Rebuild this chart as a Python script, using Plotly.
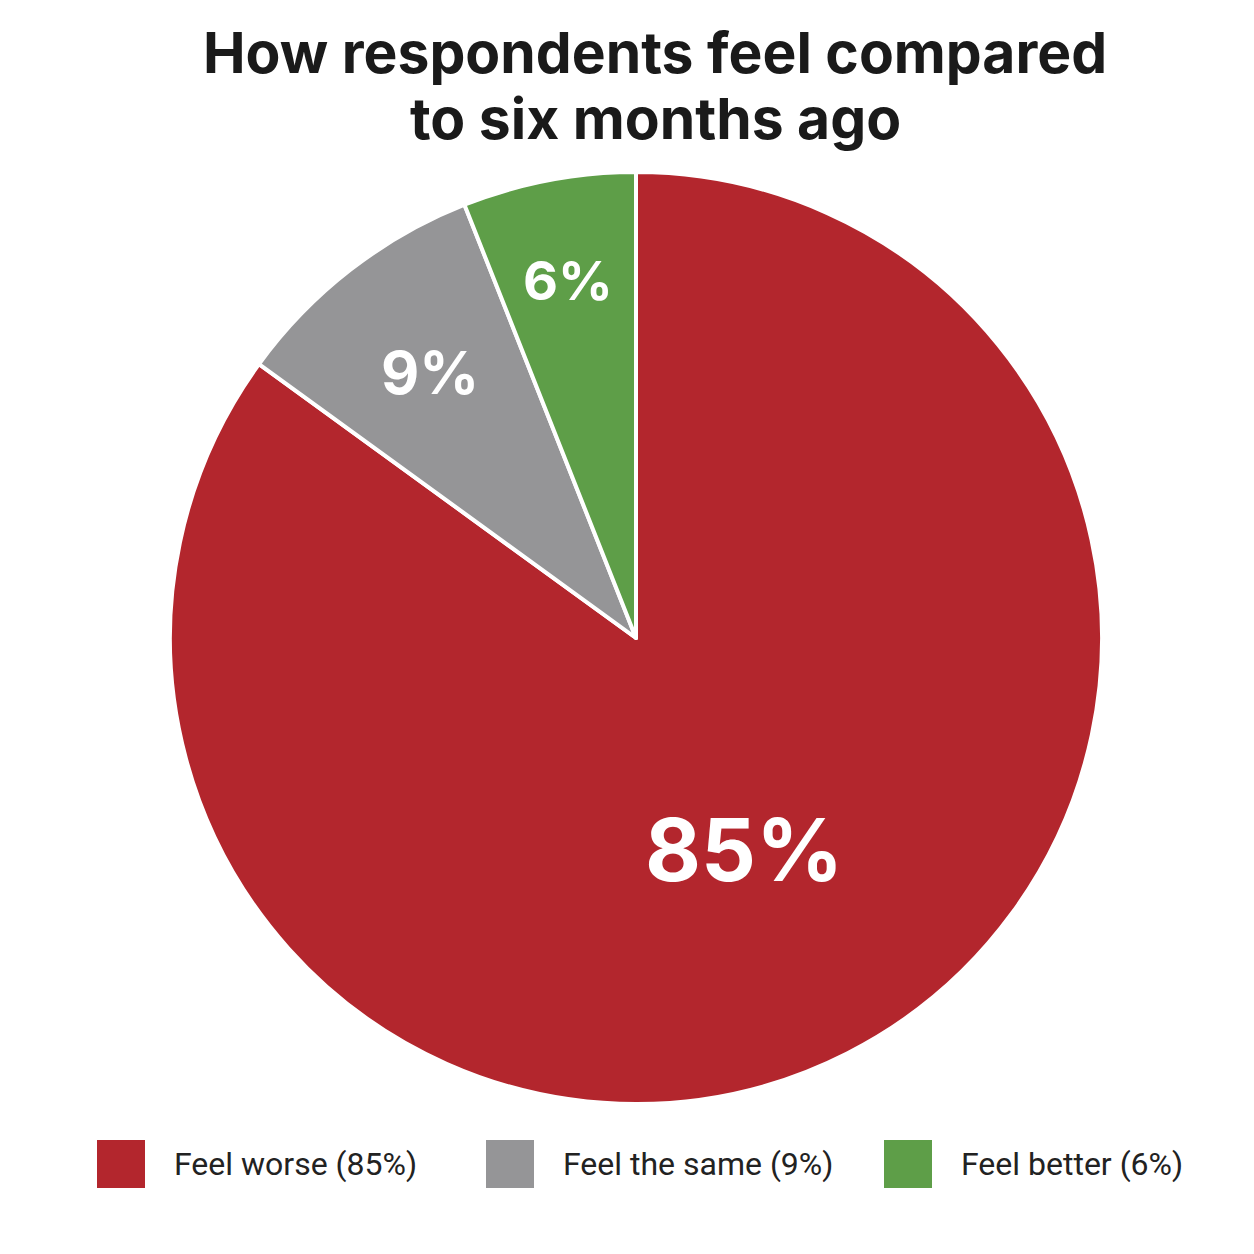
import math
import plotly.graph_objects as go

labels = ["Feel worse", "Feel the same", "Feel better"]
values = [85, 9, 6]
colors = ["#B3262D", "#959597", "#5E9E48"]
label_sizes = [86, 59, 54]
label_radial = [0.51, 0.72, 0.78]   # radial position of slice labels (fraction of radius)
title_lines = ["How respondents feel compared", "to six months ago"]

W = H = 1254
OFF = 8  # page body margin of the browser
cx, cy, r = 636 - OFF, 638 - OFF, 466

fig = go.Figure(go.Pie(
    labels=labels,
    values=values,
    marker=dict(colors=colors, line=dict(color="white", width=4)),
    sort=False,
    direction="clockwise",
    rotation=0,
    textinfo="none",
    domain=dict(x=[(cx - r) / W, (cx + r) / W], y=[1 - (cy + r) / H, 1 - (cy - r) / H]),
    showlegend=False,
    hoverinfo="label+percent",
))

annotations = []
# slice labels placed on each slice's bisector
total = sum(values)
cum = 0
for val, fs, fr in zip(values, label_sizes, label_radial):
    mid = (cum + val / 2) / total * 2 * math.pi
    cum += val
    px = cx + fr * r * math.sin(mid)
    py = cy - fr * r * math.cos(mid)
    annotations.append(dict(xref="paper", yref="paper", x=px / W, y=1 - py / H,
                            xanchor="center", yanchor="middle", showarrow=False,
                            text=f"{val}%",
                            font=dict(family="Inter", size=fs, color="white", weight="bold")))

# title
for i, line in enumerate(title_lines):
    annotations.append(dict(xref="paper", yref="paper", x=(655 - OFF) / W,
                            y=1 - (52 + 66 * i - OFF) / H,
                            xanchor="center", yanchor="middle", showarrow=False, text=line,
                            font=dict(family="Inter", size=57, color="#1a1a1a", weight="bold")))

# legend drawn as squares + text
leg_sq_x = [97, 486, 884]
sq = 48
leg_y = 1164
shapes = []
for lab, val, col, x0 in zip(labels, values, colors, leg_sq_x):
    x0 -= OFF
    yc = leg_y - OFF
    shapes.append(dict(type="rect", xref="paper", yref="paper",
                       x0=x0 / W, x1=(x0 + sq) / W,
                       y0=1 - (yc + sq / 2) / H, y1=1 - (yc - sq / 2) / H,
                       fillcolor=col, line=dict(width=0)))
    annotations.append(dict(xref="paper", yref="paper", x=(x0 + sq + 27) / W, y=1 - yc / H,
                            xanchor="left", yanchor="middle", showarrow=False,
                            text=f"{lab} ({val}%)",
                            font=dict(family="Roboto", size=32, color="#222222")))

fig.update_layout(
    width=W, height=H,
    paper_bgcolor="white", plot_bgcolor="white",
    margin=dict(l=0, r=0, t=0, b=0),
    shapes=shapes,
    annotations=annotations,
)

fig.write_html("out.html")
